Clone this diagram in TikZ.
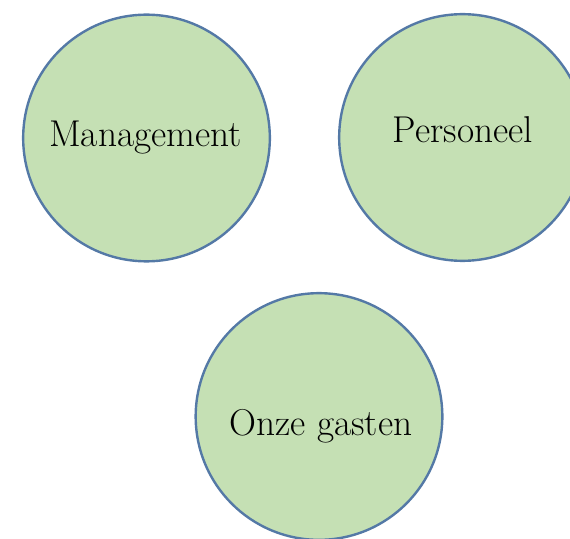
\documentclass[tikz,border=0pt]{standalone}
\definecolor{kringgroen}{HTML}{C5E0B4}
\definecolor{kringrand}{HTML}{5479A6}
\begin{document}
\begin{tikzpicture}[x=0.75pt, y=-0.75pt, line join=round, line cap=round,
		kring/.style={circle, draw=kringrand, fill=kringgroen, line width=1.8pt, minimum size=185pt, inner sep=0pt},
		tekst/.style={anchor=base, font=\fontsize{28}{33}\selectfont}]
		\useasboundingbox (0,0) rectangle (570,538);
		\clip (0,0) rectangle (570,538);
		% de drie kringen
		\node[kring] (mgmt) at (146.5,138) {};
		\node[kring] (pers) at (462.5,137.5) {};
		\node[kring] (gasten) at (319,416.5) {};
		% teksten
		\node[tekst] (mgmttxt) at (145.5,147) {Management};
		\node[tekst] (perstxt) at (463,143) {Personeel};
		\node[tekst] (gastentxt) at (321,435) {Onze gasten};
\end{tikzpicture}
\end{document}
